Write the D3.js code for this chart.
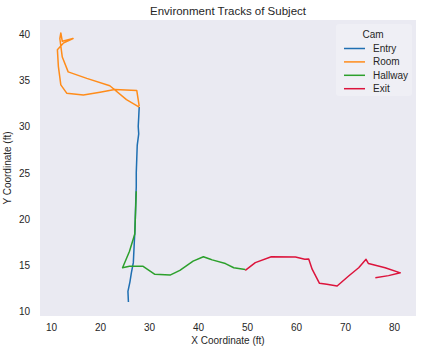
<!DOCTYPE html>
<html>
<head lang="en">
  <title>Environment Tracks</title>
  <script src="https://d3js.org/d3.v7.min.js" charset="utf-8"></script>
  <style>
    body { margin: 0; background: #fff; }
    text { font-family: "Liberation Sans", Arial, sans-serif; fill: #262626; }
  </style>
</head>
<body>
  <script>
    // track points per camera, [x, y] in feet
    var cams = ["Entry", "Room", "Hallway", "Exit"];
    var camColors = ["#1f6fb2", "#ff8c1a", "#2ca02c", "#dc143c"];

    var entryTrack = [[28.0,32.1],[27.9,31.0],[27.8,30.0],[27.9,29.2],[27.6,28.0],[27.5,26.5],[27.4,25.0],
      [27.4,23.5],[27.3,22.0],[27.2,20.0],[27.1,18.5],[27.0,17.5],[26.8,15.3],[26.4,14.2],[26.1,13.2],
      [25.7,12.2],[25.8,11.05]];
    var roomTrack = [[28.0,32.1],[25.4,32.9],[22.0,34.4],[17.3,35.2],[13.5,35.9],[12.3,37.5],[11.8,39.5],
      [12.0,40.1],[12.3,39.2],[14.5,39.5],[12.5,39.0],[11.3,38.3],[11.5,36.5],[12.0,34.5],[13.2,33.6],
      [16.6,33.4],[20.0,33.7],[23.0,34.0],[27.5,33.9],[28.0,32.2]];
    var hallwayTrack = [[27.4,23.0],[27.2,20.0],[27.1,18.4],[26.0,16.5],[24.6,14.75],[26.0,14.9],[28.8,14.9],
      [31.2,14.04],[34.3,13.96],[36.3,14.47],[39.0,15.47],[41.1,15.94],[42.4,15.7],[42.9,15.6],
      [45.6,15.2],[47.3,14.75],[49.65,14.57]];
    var exitTrack = [[49.65,14.47],[51.7,15.3],[54.96,15.94],[59.9,15.9],[61.8,15.66],[62.6,15.7],
      [63.3,14.6],[64.8,13.07],[66.3,12.96],[68.4,12.78],[70.75,13.86],[72.8,14.75],[74.3,15.66],
      [74.8,15.2],[78.2,14.75],[81.3,14.2],[78.9,13.9],[76.2,13.67]];
    var tracks = [entryTrack, roomTrack, hallwayTrack, exitTrack];

    var xTicks = [10, 20, 30, 40, 50, 60, 70, 80];
    var yTicks = [10, 15, 20, 25, 30, 35, 40];

    var width = 424, height = 352;
    var pLeft = 40, pRight = 416, pTop = 20, pBottom = 316;

    var x = d3.scaleLinear().domain([7.75, 84.5]).range([pLeft, pRight]);
    var y = d3.scaleLinear().domain([9.54, 41.5]).range([pBottom, pTop]);

    var svg = d3.select("body")
      .append("svg")
      .attr("width", width)
      .attr("height", height);

    svg.append("rect")
      .attr("x", pLeft).attr("y", pTop)
      .attr("width", pRight - pLeft).attr("height", pBottom - pTop)
      .attr("fill", "#eaeaf2");

    var xAxis = svg.append("g")
      .attr("transform", "translate(0," + pBottom + ")")
      .call(d3.axisBottom(x).tickValues(xTicks).tickSize(0).tickPadding(8));
    var yAxis = svg.append("g")
      .attr("transform", "translate(" + pLeft + ",0)")
      .call(d3.axisLeft(y).tickValues(yTicks).tickSize(0).tickPadding(10));
    [xAxis, yAxis].forEach(function(a) {
      a.select(".domain").remove();
      a.selectAll("text").style("font-size", "10px").attr("fill", "#262626")
        .style("font-family", "Liberation Sans, Arial, sans-serif");
    });

    var line = d3.line()
      .x(function(d) { return x(d[0]); })
      .y(function(d) { return y(d[1]); });

    svg.append("g").selectAll("path")
      .data(tracks)
      .enter().append("path")
        .attr("d", line)
        .attr("fill", "none")
        .attr("stroke", function(d, i) { return camColors[i]; })
        .attr("stroke-width", 1.5)
        .attr("stroke-linejoin", "round");

    svg.append("text")
      .attr("x", (pLeft + pRight) / 2).attr("y", 15)
      .attr("text-anchor", "middle")
      .style("font-size", "11.5px")
      .text("Environment Tracks of Subject");

    svg.append("text")
      .attr("x", (pLeft + pRight) / 2).attr("y", 344)
      .attr("text-anchor", "middle")
      .style("font-size", "10px")
      .text("X Coordinate (ft)");

    svg.append("text")
      .attr("transform", "translate(11," + ((pTop + pBottom) / 2) + ") rotate(-90)")
      .attr("text-anchor", "middle")
      .style("font-size", "10px")
      .text("Y Coordinate (ft)");

    // legend
    var legend = svg.append("g");
    legend.append("rect")
      .attr("x", 336).attr("y", 24).attr("width", 76).attr("height", 72)
      .attr("rx", 3)
      .attr("fill", "#ffffff").attr("fill-opacity", 0.25);
    legend.append("text")
      .attr("x", 373).attr("y", 38)
      .attr("text-anchor", "middle")
      .style("font-size", "10px")
      .text("Cam");
    var items = legend.selectAll("g.item")
      .data(cams)
      .enter().append("g")
        .attr("class", "item")
        .attr("transform", function(d, i) { return "translate(0," + (48.5 + i * 13.4) + ")"; });
    items.append("line")
      .attr("x1", 344).attr("x2", 365)
      .attr("stroke", function(d, i) { return camColors[i]; })
      .attr("stroke-width", 1.5);
    items.append("text")
      .attr("x", 373).attr("y", 3.5)
      .style("font-size", "10px")
      .text(function(d) { return d; });
  </script>
</body>
</html>
